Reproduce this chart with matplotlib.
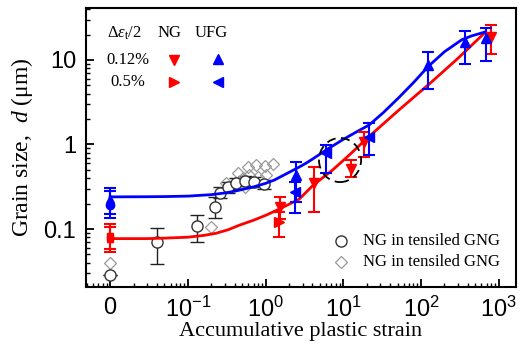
import numpy as np
import matplotlib
matplotlib.use("Agg")
import matplotlib.pyplot as plt
from matplotlib.patches import Ellipse
from matplotlib.ticker import FixedLocator, FixedFormatter, LogLocator, NullFormatter

plt.rcParams['mathtext.fontset'] = 'custom'
plt.rcParams['mathtext.rm'] = 'Liberation Serif'
plt.rcParams['mathtext.it'] = 'Liberation Serif:italic'
plt.rcParams['mathtext.sf'] = 'Liberation Sans'

ZERO_POS = 1e-2  # where strain "0" is placed on the log axis

# ---- fitted curves ----
ng_curve_x = [0, 0.03, 0.05, 0.1, 0.16, 0.23, 0.33, 0.46, 0.7, 1.0, 1.5, 2.7, 4.1, 7.3, 12.5,
              19.5, 52, 140, 300, 676]
ng_curve_y = [0.077, 0.077, 0.078, 0.080, 0.084, 0.089, 0.098, 0.111, 0.127, 0.145, 0.172,
              0.225, 0.33, 0.5, 0.78, 1.15, 2.56, 5.6, 10.5, 21.4]
ufg_curve_x = [0, 0.03, 0.05, 0.1, 0.2, 0.3, 0.4, 0.7, 1.0, 1.3, 1.6, 2.7, 3.3, 4.0, 6.0, 10,
               15, 21.5, 33, 52, 80, 124, 200, 336, 450, 676]
ufg_curve_y = [0.240, 0.241, 0.242, 0.245, 0.255, 0.267, 0.28, 0.315, 0.347, 0.38, 0.42, 0.54,
               0.60, 0.67, 0.86, 1.15, 1.42, 1.70, 2.4, 3.6, 5.4, 8.4, 12.5, 17.4, 19.3, 21.5]

# ---- NG, as-received (x = 0) ----
ng0_y = [0.083, 0.076]
ng0_hi = [0.114, 0.105]
ng0_lo = [0.058, 0.053]
# ---- UFG, as-received (x = 0) ----
ufg0_tri_y, ufg0_tri_hi, ufg0_tri_lo = 0.227, 0.305, 0.15
ufg0_dot_y, ufg0_dot_hi, ufg0_dot_lo = 0.194, 0.28, 0.135

# ---- NG 0.12% (down triangle) ----
ng012_x = [1.55, 4.25, 12.5, 18.6, 794]
ng012_y = [0.181, 0.353, 0.52, 1.08, 18.9]
ng012_hi = [0.237, 0.537, 0.655, 1.42, 26]
ng012_lo = [0.13, 0.16, 0.416, 0.72, 11.8]
# ---- NG 0.5% (right triangle) ----
ng05_x = [1.5]
ng05_y = [0.122]
ng05_hi = [0.16]
ng05_lo = [0.081]
# ---- UFG 0.12% (up triangle) ----
ufg012_x = [2.5, 124, 363, 677]
ufg012_y = [0.435, 8.73, 16.5, 18.1]
ufg012_hi = [0.615, 12.5, 22, 24]
ufg012_lo = [0.21, 4.5, 9.0, 9.8]
# ---- UFG 0.5% (left triangle) ----
ufg05_x = [2.42, 6.0, 21.5]
ufg05_y = [0.277, 0.787, 1.24]
ufg05_hi = [0.36, 0.99, 1.78]
ufg05_lo = [0.153, 0.456, 0.75]

# ---- NG in tensiled GNG (open circles) ----
circ_x = [0, 0.040, 0.13, 0.222, 0.26, 0.33, 0.42, 0.55, 0.72, 0.95]
circ_y = [0.0288, 0.070, 0.109, 0.184, 0.27, 0.31, 0.35, 0.37, 0.36, 0.34]
circ_hi = [0.0288, 0.103, 0.148, 0.241, 0.31, 0.36, 0.40, 0.42, 0.41, 0.38]
circ_lo = [0.0288, 0.039, 0.070, 0.134, 0.235, 0.27, 0.30, 0.32, 0.31, 0.30]
# ---- NG in tensiled GNG (open diamonds) ----
dia_x = [0, 0.20, 0.31, 0.44, 0.49, 0.51, 0.54, 0.59, 0.62, 0.76, 0.80, 0.97, 1.02, 1.24]
dia_y = [0.0395, 0.106, 0.353, 0.456, 0.347, 0.40, 0.317, 0.546, 0.435, 0.57, 0.416, 0.556, 0.435, 0.59]

xtick_vals = [0, 0.1, 1, 10, 100, 1000]
xtick_labels = ['0', r'$\mathsf{10^{-1}}$', r'$\mathsf{10^{0}}$', r'$\mathsf{10^{1}}$',
                r'$\mathsf{10^{2}}$', r'$\mathsf{10^{3}}$']
ytick_vals = [0.1, 1, 10]
ytick_labels = ['0.1', '1', '10']

RED = '#ff0000'
BLUE = '#0000ff'


def px(xs):
    return [ZERO_POS if v == 0 else v for v in np.atleast_1d(xs)]


def err(y, hi, lo):
    y, hi, lo = np.atleast_1d(y), np.atleast_1d(hi), np.atleast_1d(lo)
    return [y - lo, hi - y]


fig = plt.figure(figsize=(5.2, 3.48), dpi=100)
ax = fig.add_axes([0.1654, 0.1753, 0.8266, 0.8017])
ax.set_xscale('log')
ax.set_yscale('log')

# curves
ax.plot(px(ng_curve_x), ng_curve_y, color=RED, lw=2, zorder=3)
ax.plot(px(ufg_curve_x), ufg_curve_y, color=BLUE, lw=2, zorder=3)

ekw = dict(capsize=4, elinewidth=1.5, capthick=1.5, linestyle='none', zorder=4)
# circles / diamonds
ax.errorbar(px(circ_x), circ_y, yerr=err(circ_y, circ_hi, circ_lo), fmt='o', mfc='white',
            mec='#333333', ms=8, mew=1, ecolor='#222222', capsize=5, elinewidth=1,
            capthick=1, zorder=2)
ax.plot(px(dia_x), dia_y, 'D', mfc='none', mec='#999999', ms=6.5, mew=0.9, zorder=2,
        linestyle='none')

# x = 0
ax.errorbar(px([0, 0]), ng0_y, yerr=err(ng0_y, ng0_hi, ng0_lo), fmt='s', color=RED, ms=5, **ekw)
ax.errorbar(px([0]), [ufg0_dot_y], yerr=err(ufg0_dot_y, ufg0_dot_hi, ufg0_dot_lo), fmt='o',
            color=BLUE, ms=6, **ekw)
ax.errorbar(px([0]), [ufg0_tri_y], yerr=err(ufg0_tri_y, ufg0_tri_hi, ufg0_tri_lo), fmt='^',
            color=BLUE, ms=6, **ekw)

ax.errorbar(ng012_x, ng012_y, yerr=err(ng012_y, ng012_hi, ng012_lo), fmt='v', color=RED, ms=7, **ekw)
ax.errorbar(ng05_x, ng05_y, yerr=err(ng05_y, ng05_hi, ng05_lo), fmt='>', color=RED, ms=7, **ekw)
ax.errorbar(ufg012_x, ufg012_y, yerr=err(ufg012_y, ufg012_hi, ufg012_lo), fmt='^', color=BLUE, ms=7, **ekw)
ax.errorbar(ufg05_x, ufg05_y, yerr=err(ufg05_y, ufg05_hi, ufg05_lo), fmt='<', color=BLUE, ms=7, **ekw)

# dashed ellipse
ax.add_patch(Ellipse((0.591, 0.455), 0.098, 0.158, transform=ax.transAxes, fill=False,
                     ls=(0, (5, 3)), lw=1.3, ec='black', zorder=5))

ax.set_xlim(10 ** -2.31, 10 ** 3.22)
ax.set_ylim(10 ** -1.686, 10 ** 1.615)

ax.xaxis.set_major_locator(FixedLocator(px(xtick_vals)))
ax.xaxis.set_major_formatter(FixedFormatter(xtick_labels))
ax.xaxis.set_minor_locator(LogLocator(base=10, subs=np.arange(2, 10), numticks=20))
ax.xaxis.set_minor_formatter(NullFormatter())
ax.yaxis.set_major_locator(FixedLocator(ytick_vals))
ax.yaxis.set_major_formatter(FixedFormatter(ytick_labels))
ax.yaxis.set_minor_locator(LogLocator(base=10, subs=np.arange(2, 10), numticks=20))
ax.yaxis.set_minor_formatter(NullFormatter())

ax.tick_params(which='both', direction='in', top=False, right=False, labelsize=17,
               labelfontfamily='Liberation Sans', pad=7)
ax.tick_params(which='major', length=6, width=1.3)
ax.tick_params(which='minor', length=3, width=1)
for s in ax.spines.values():
    s.set_linewidth(1.5)

ax.set_xlabel('Accumulative plastic strain', family='Liberation Serif', fontsize=16, labelpad=0)
ax.set_ylabel('Grain size,  $d$ (μm)', family='Liberation Serif', fontsize=17, labelpad=6)

# top-left legend table
tkw = dict(transform=ax.transAxes, family='Liberation Serif', fontsize=12, ha='center', va='center')
ax.text(0.0895, 0.910, r'Δ$\varepsilon_{\rm t}$/2', **tkw)
ax.text(0.195, 0.910, 'NG', **tkw)
ax.text(0.291, 0.910, 'UFG', **tkw)
ax.text(0.0965, 0.814, '0.12%', **tkw)
ax.text(0.0965, 0.735, '0.5%', **tkw)
mkw = dict(transform=ax.transAxes, ms=6.5, linestyle='none', clip_on=False)
ax.plot([0.2047], [0.814], 'v', color=RED, **mkw)
ax.plot([0.307], [0.818], '^', color=BLUE, **mkw)
ax.plot([0.2047], [0.735], '>', color=RED, **mkw)
ax.plot([0.307], [0.735], '<', color=BLUE, **mkw)

# bottom-right legend
ax.plot([0.593], [0.166], 'o', mfc='white', mec='#333333', ms=8, mew=1, transform=ax.transAxes)
ax.plot([0.593], [0.0896], 'D', mfc='none', mec='#999999', ms=6.5, mew=0.9, transform=ax.transAxes)
lkw = dict(transform=ax.transAxes, family='Liberation Serif', fontsize=12, ha='left', va='center')
ax.text(0.644, 0.166, 'NG in tensiled GNG', **lkw)
ax.text(0.644, 0.0896, 'NG in tensiled GNG', **lkw)

fig.savefig('out.png', dpi=100)
